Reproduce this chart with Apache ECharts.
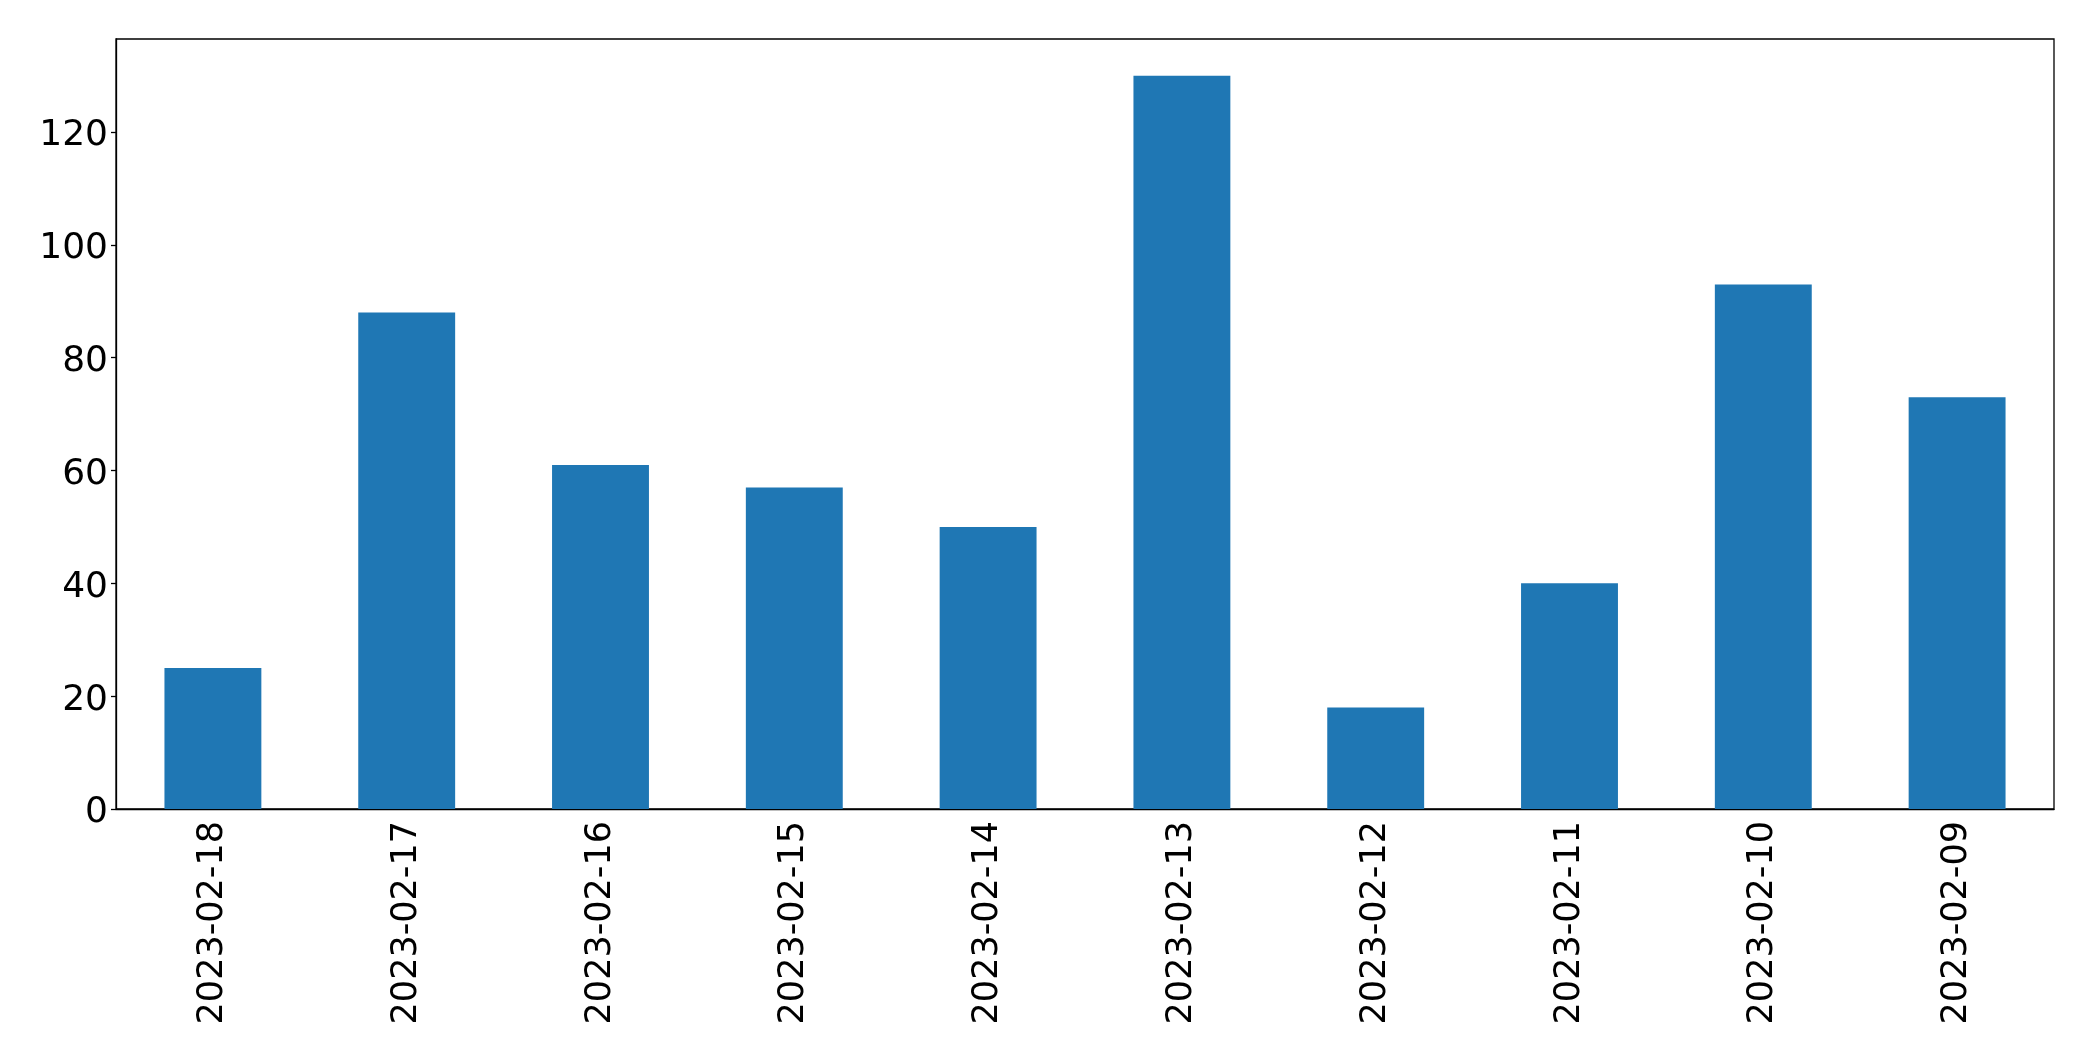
<!DOCTYPE html>
<html>
<head>
<meta charset="utf-8">
<script src="https://cdn.jsdelivr.net/npm/echarts@6/dist/echarts.min.js"></script>
<style>html,body{margin:0;padding:0;background:#fff}#c{width:2093px;height:1061px}</style>
</head>
<body>
<div id="c"></div>
<script>
const categories = ["2023-02-18","2023-02-17","2023-02-16","2023-02-15","2023-02-14","2023-02-13","2023-02-12","2023-02-11","2023-02-10","2023-02-09"];
const values = [25, 88, 61, 57, 50, 130, 18, 40, 93, 73];
const yTicks = [0, 20, 40, 60, 80, 100, 120];

const chart = echarts.init(document.getElementById('c'), null, {renderer: 'canvas'});
const font = 'DejaVu Sans';
chart.setOption({
  animation: false,
  backgroundColor: '#fff',
  grid: {left: 116, right: 39, top: 39, bottom: 252, show: true, borderColor: '#000', borderWidth: 1.3, backgroundColor: 'transparent'},
  xAxis: {
    type: 'category',
    data: categories,
    axisLine: {lineStyle: {color: '#000', width: 1.3}},
    axisTick: {alignWithLabel: true, length: 5, lineStyle: {color: '#000', width: 1.3}},
    axisLabel: {rotate: 90, color: '#000', fontFamily: font, fontSize: 35, margin: 12, interval: 0}
  },
  yAxis: {
    type: 'value',
    min: 0,
    max: 136.5,
    interval: 20,
    splitLine: {show: false},
    axisLine: {show: true, lineStyle: {color: '#000', width: 1.3}},
    axisTick: {show: true, length: 5, lineStyle: {color: '#000', width: 1.3}},
    axisLabel: {color: '#000', fontFamily: font, fontSize: 36, margin: 8, showMaxLabel: false,
      formatter: v => yTicks.includes(v) ? '{a|' + v + '}' : '',
      rich: {a: {fontFamily: font, fontSize: 36, color: '#000', padding: [8, 0, 0, 0]}}}
  },
  series: [{
    type: 'bar',
    data: values,
    barWidth: '50%',
    itemStyle: {color: '#1f77b4'}
  }]
});
</script>
</body>
</html>
